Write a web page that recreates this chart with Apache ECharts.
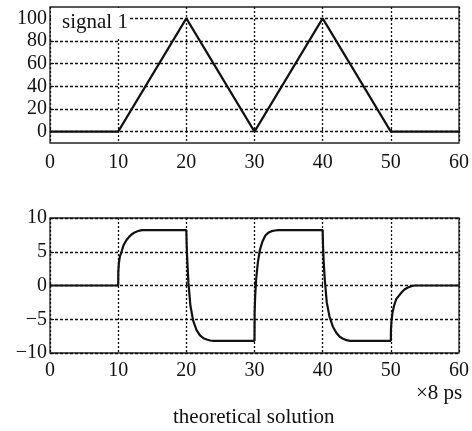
<!DOCTYPE html>
<html>
<head>
<meta charset="utf-8">
<script src="https://cdn.jsdelivr.net/npm/echarts@6/dist/echarts.min.js"></script>
<style>
body { margin: 0; padding: 0; background: #fff; }
#chart { width: 472px; height: 431px; }
</style>
</head>
<body>
<div id="chart"></div>
<script>
// signal 1 : triangle wave
var sig1T = [0, 10, 20, 30, 40, 50, 60];
var sig1V = [0, 0, 100, 0, 100, 0, 0];

// theoretical solution
var sig2T = [0, 10, 10.02, 10.1, 10.25, 10.5, 10.8, 11.2, 11.6, 12.0, 12.5, 13.0, 13.5,
  20, 20.05, 20.15, 20.3, 20.6, 21.0, 21.5, 22.0, 22.5, 23.0, 23.5, 24.0, 24.5,
  30, 30.02, 30.1, 30.25, 30.5, 30.8, 31.2, 31.6, 32.0, 32.5, 33.0, 33.5,
  40, 40.05, 40.15, 40.3, 40.6, 41.0, 41.5, 42.0, 42.5, 43.0, 43.5, 44.0, 44.5,
  50, 50.02, 50.1, 50.25, 50.5, 50.8, 51.2, 51.6, 52.0, 52.5, 53.0, 53.5, 60];
var sig2V = [0, 0, 2.0, 3.3, 4.3, 5.0, 6.0, 6.7, 7.2, 7.6, 7.9, 8.1, 8.2,
  8.2, 6.0, 3.5, 0.5, -3.0, -5.2, -6.6, -7.4, -7.8, -8.0, -8.15, -8.2, -8.2,
  -8.2, -4.0, -1.5, 1.0, 3.5, 5.3, 6.6, 7.4, 7.8, 8.05, 8.15, 8.2,
  8.2, 6.0, 3.5, 1.0, -2.5, -4.6, -6.1, -7.0, -7.6, -7.9, -8.1, -8.2, -8.2,
  -8.2, -6.5, -5.2, -4.0, -2.9, -2.0, -1.5, -1.0, -0.6, -0.3, -0.1, 0, 0];

var topYTicks = [0, 20, 40, 60, 80, 100];

function pairs(t, v) {
  return t.map(function (x, i) { return [x, v[i]]; });
}

var font = "'Liberation Serif', 'DejaVu Serif', serif";
var minus = function (v) { return v < 0 ? '\u2212' + (-v) : String(v); };

function xAxisFor(g, margin) {
  return {
    gridIndex: g, type: 'value', min: 0, max: 60, interval: 10,
    axisLine: { show: false },
    axisTick: { inside: true, length: 4, lineStyle: { color: '#111' } },
    axisLabel: { color: '#111', fontFamily: font, fontSize: 20, margin: margin },
    splitLine: { show: true, lineStyle: { color: '#111', type: [2, 2], width: 1.3 } }
  };
}

var chart = echarts.init(document.getElementById('chart'));
chart.setOption({
  animation: false,
  grid: [
    { left: 50, top: 7, width: 410, height: 136, show: true, borderColor: '#222', borderWidth: 1.3 },
    { left: 50, top: 218, width: 410, height: 135, show: true, borderColor: '#222', borderWidth: 1.3 }
  ],
  xAxis: [xAxisFor(0, 10), xAxisFor(1, 8)],
  yAxis: [
    {
      gridIndex: 0, type: 'value', min: -10, max: 110,
      axisLine: { show: false },
      axisTick: { inside: true, length: 4, customValues: topYTicks, lineStyle: { color: '#111' } },
      axisLabel: { customValues: topYTicks, color: '#111', fontFamily: font, fontSize: 20, margin: 3 },
      splitLine: { show: true, lineStyle: { color: '#111', type: [3, 2], width: 1.3 } }
    },
    {
      gridIndex: 1, type: 'value', min: -10, max: 10, interval: 5,
      axisLine: { show: false },
      axisTick: { inside: true, length: 4, lineStyle: { color: '#111' } },
      axisLabel: { color: '#111', fontFamily: font, fontSize: 20, margin: 3, formatter: minus },
      splitLine: { show: true, lineStyle: { color: '#111', type: [3, 2], width: 1.3 } }
    }
  ],
  series: [
    {
      type: 'line', xAxisIndex: 0, yAxisIndex: 0, data: pairs(sig1T, sig1V),
      showSymbol: false, lineStyle: { color: '#111', width: 2.2 }, z: 5
    },
    {
      type: 'line', xAxisIndex: 1, yAxisIndex: 1, data: pairs(sig2T, sig2V),
      showSymbol: false, lineStyle: { color: '#111', width: 2.2 }, z: 5
    }
  ],
  graphic: [
    { type: 'rect', z: 50, shape: { x: 51, y: 8, width: 79, height: 29 }, style: { fill: '#fff' } },
    { type: 'text', z: 51, left: 62, top: 12,
      style: { text: 'signal 1', fill: '#111', font: '21px ' + font } },
    { type: 'text', z: 51, left: 416, top: 383,
      style: { text: '\u00d78 ps', fill: '#111', font: '21px ' + font } },
    { type: 'text', z: 51, left: 173, top: 407,
      style: { text: 'theoretical solution', fill: '#111', font: '21px ' + font } }
  ]
});
</script>
</body>
</html>
